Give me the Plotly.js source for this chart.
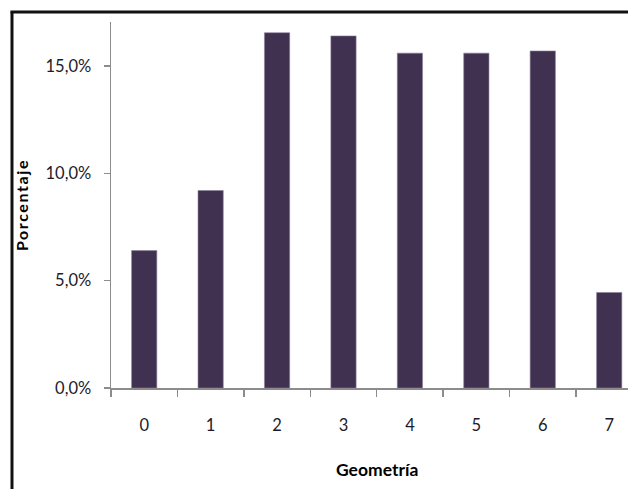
<!DOCTYPE html>
<html>
<head>
<meta charset="utf-8">
<script src="https://cdn.plot.ly/plotly-3.0.1.min.js"></script>
<style>
  html, body { margin: 0; padding: 0; background: #fff; }
  #chart { width: 628px; height: 489px; }
  #chart .ytitle { letter-spacing: 1.6px; }
</style>
</head>
<body>
<div id="chart"></div>
<script>
// Data
var categories = ["0", "1", "2", "3", "4", "5", "6", "7"];
var percentages = [0.064, 0.092, 0.1655, 0.164, 0.156, 0.156, 0.157, 0.0445];
var yTickValues = [0, 0.05, 0.10, 0.15];
var xTitle = "Geometría";
var yTitle = "Porcentaje";

var barColor = "#403151";
var axisColor = "#8c8c8c";
var textColor = "#1b1b2a";
var fontFamily = "Lato, 'Open Sans', sans-serif";

var trace = {
  type: "bar",
  x: categories,
  y: percentages,
  marker: { color: barColor, line: { color: "#8a7f9c", width: 0.6 } },
  hoverinfo: "none"
};

var layout = {
  width: 628,
  height: 489,
  margin: { l: 111, r: 0, t: 22, b: 101 },
  paper_bgcolor: "#ffffff",
  plot_bgcolor: "#ffffff",
  separators: ",.",
  bargap: 0.62,
  showlegend: false,
  font: { family: fontFamily, color: textColor, size: 16 },
  xaxis: {
    type: "category",
    range: [-0.5, 7.283],
    showgrid: false,
    zeroline: false,
    showline: true,
    linecolor: axisColor,
    linewidth: 1.5,
    ticks: "outside",
    tickson: "boundaries",
    ticklen: 7,
    tickwidth: 1.5,
    tickcolor: axisColor,
    ticklabelstandoff: 22,
    tickfont: { family: fontFamily, size: 16.5, color: textColor },
    fixedrange: true
  },
  yaxis: {
    range: [0, 0.1705],
    tickvals: yTickValues,
    tickformat: ".1%",
    showgrid: false,
    zeroline: false,
    showline: true,
    linecolor: axisColor,
    linewidth: 1.5,
    ticks: "outside",
    ticklen: 6,
    tickwidth: 1.5,
    tickcolor: axisColor,
    ticklabelstandoff: 9,
    tickfont: { family: fontFamily, size: 16.5, color: textColor },
    title: {
      text: yTitle,
      font: { family: fontFamily, size: 16, color: "#000", weight: "bold" },
      standoff: 13
    },
    fixedrange: true
  },
  annotations: [
    {
      text: xTitle,
      xref: "x",
      yref: "paper",
      x: 3.5,
      y: -0.224,
      xanchor: "center",
      yanchor: "middle",
      showarrow: false,
      font: { family: fontFamily, size: 17.5, color: "#000", weight: "bold" }
    }
  ],
  shapes: [
    {
      type: "line", xref: "paper", yref: "paper",
      x0: -0.1915, x1: -0.1915, y0: -0.35, y1: 1.0286,
      line: { color: "#111", width: 3 }
    },
    {
      type: "line", xref: "paper", yref: "paper",
      x0: -0.1944, x1: 1.05, y0: 1.0273, y1: 1.0273,
      line: { color: "#111", width: 3 }
    }
  ]
};

Plotly.newPlot("chart", [trace], layout, { displayModeBar: false, staticPlot: true });
</script>
</body>
</html>
